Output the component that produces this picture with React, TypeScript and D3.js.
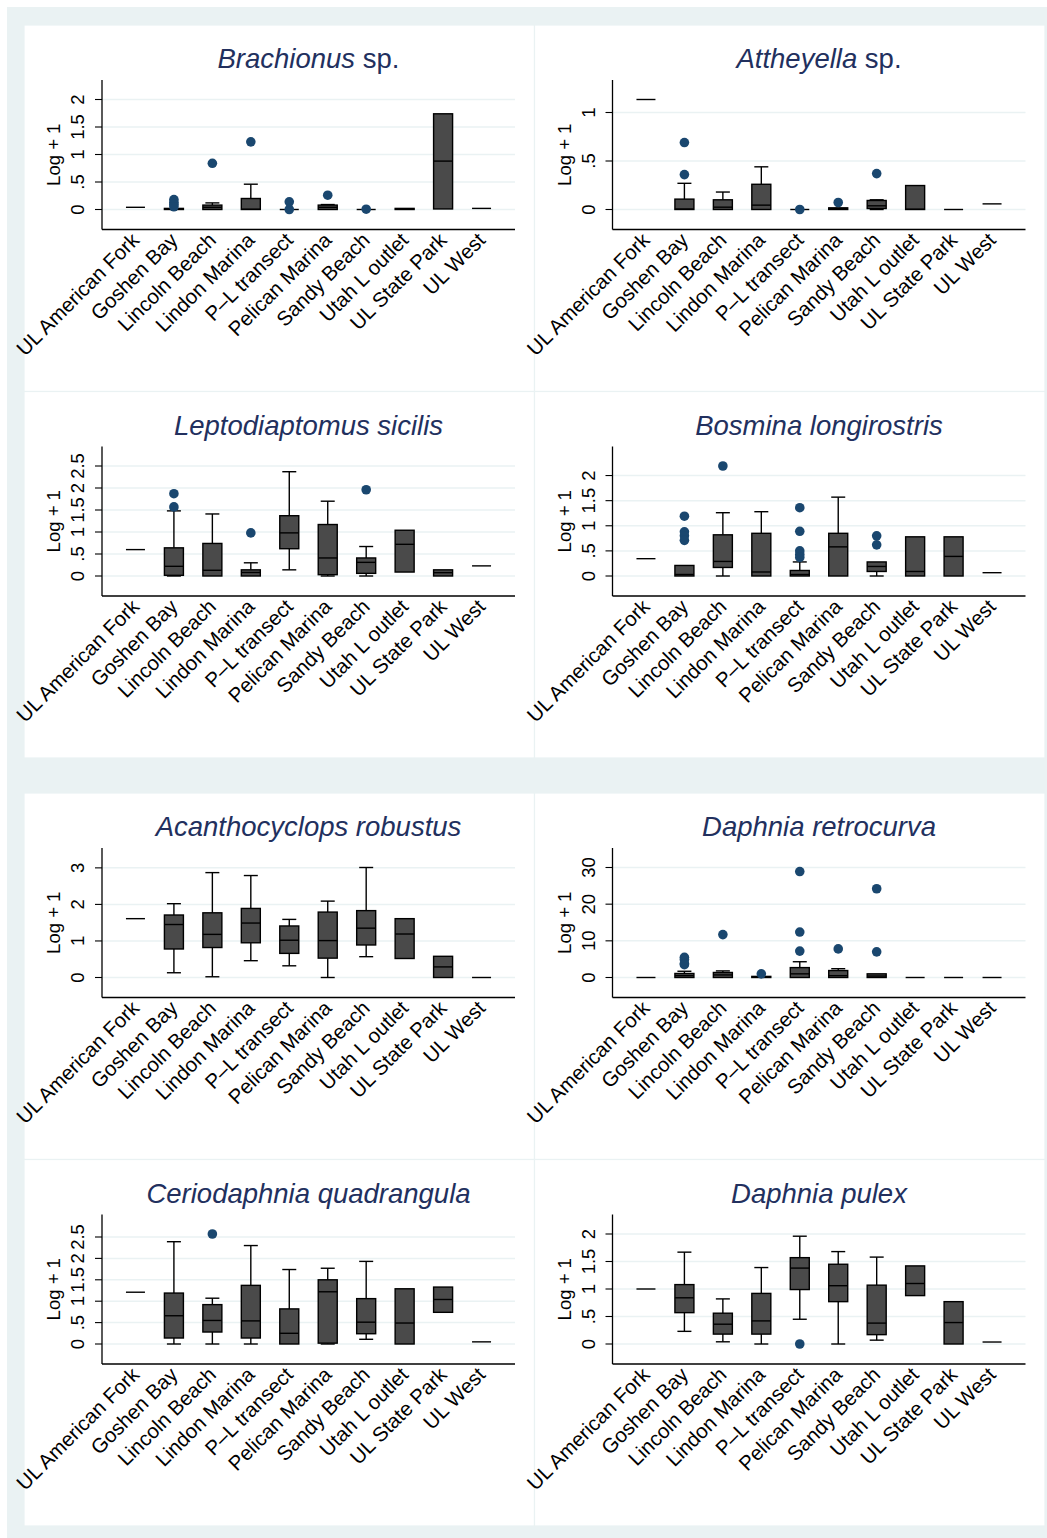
import React, { useEffect, useRef } from "react";
import * as d3 from "d3";

const categories = [
  "UL American Fork",
  "Goshen Bay",
  "Lincoln Beach",
  "Lindon Marina",
  "P–L transect",
  "Pelican Marina",
  "Sandy Beach",
  "Utah L outlet",
  "UL State Park",
  "UL West",
];

// Box stats per category: [lower whisker, q1, median, q3, upper whisker]
const brachionusTitle = ["Brachionus", " sp."];
const brachionusTicks = [0, 0.5, 1, 1.5, 2];
const brachionusBoxes = [
  [0.04, 0.04, 0.04, 0.04, 0.04],
  [0, 0, 0.01, 0.02, 0.02],
  [0, 0, 0.04, 0.08, 0.12],
  [0, 0, 0.005, 0.2, 0.46],
  [0, 0, 0, 0, 0],
  [0, 0, 0.04, 0.08, 0.09],
  [0, 0, 0, 0, 0],
  [0, 0, 0.01, 0.02, 0.02],
  [0.01, 0.01, 0.88, 1.74, 1.74],
  [0.02, 0.02, 0.02, 0.02, 0.02],
];
const brachionusOutliers = [[], [0.18, 0.13, 0.09, 0.05], [0.84], [1.23], [0.14, 0.0], [0.26], [0.005], [], [], []];

const attheyellaTitle = ["Attheyella", " sp."];
const attheyellaTicks = [0, 0.5, 1];
const attheyellaBoxes = [
  [1.134, 1.134, 1.134, 1.134, 1.134],
  [0, 0, 0.005, 0.107, 0.27],
  [0, 0, 0.024, 0.1, 0.18],
  [0, 0, 0.045, 0.26, 0.44],
  [0, 0, 0, 0, 0],
  [0, 0, 0.01, 0.017, 0.017],
  [0, 0.01, 0.038, 0.093, 0.1],
  [0, 0, 0.003, 0.247, 0.247],
  [0, 0, 0, 0, 0],
  [0.058, 0.058, 0.058, 0.058, 0.058],
];
const attheyellaOutliers = [[], [0.69, 0.36], [], [], [0], [0.072], [0.37], [], [], []];

const leptoTitle = ["Leptodiaptomus sicilis", ""];
const leptoTicks = [0, 0.5, 1, 1.5, 2, 2.5];
const leptoBoxes = [
  [0.6, 0.6, 0.6, 0.6, 0.6],
  [0, 0.015, 0.22, 0.64, 1.48],
  [0, 0, 0.13, 0.74, 1.41],
  [0, 0, 0.08, 0.14, 0.3],
  [0.14, 0.62, 0.98, 1.37, 2.37],
  [0, 0.03, 0.41, 1.17, 1.7],
  [0, 0.06, 0.31, 0.41, 0.67],
  [0.09, 0.09, 0.72, 1.04, 1.04],
  [0, 0, 0.076, 0.14, 0.14],
  [0.23, 0.23, 0.23, 0.23, 0.23],
];
const leptoOutliers = [[], [1.57, 1.87], [], [0.98], [], [], [1.96], [], [], []];

const bosminaTitle = ["Bosmina longirostris", ""];
const bosminaTicks = [0, 0.5, 1, 1.5, 2];
const bosminaBoxes = [
  [0.345, 0.345, 0.345, 0.345, 0.345],
  [0, 0, 0.03, 0.21, 0.21],
  [0, 0.17, 0.29, 0.82, 1.26],
  [0, 0, 0.08, 0.85, 1.28],
  [0, 0, 0.03, 0.11, 0.28],
  [0, 0, 0.58, 0.85, 1.57],
  [0, 0.09, 0.19, 0.28, 0.28],
  [0, 0, 0.09, 0.78, 0.78],
  [0, 0, 0.39, 0.78, 0.78],
  [0.066, 0.066, 0.066, 0.066, 0.066],
];
const bosminaOutliers = [[], [1.19, 0.88, 0.8, 0.71], [2.19], [], [1.36, 0.89, 0.5, 0.43, 0.37], [], [0.8, 0.62], [], [], []];

const acanthoTitle = ["Acanthocyclops robustus", ""];
const acanthoTicks = [0, 1, 2, 3];
const acanthoBoxes = [
  [1.61, 1.61, 1.61, 1.61, 1.61],
  [0.13, 0.78, 1.45, 1.71, 2.02],
  [0.02, 0.82, 1.18, 1.77, 2.87],
  [0.46, 0.95, 1.49, 1.89, 2.79],
  [0.32, 0.66, 1.02, 1.41, 1.59],
  [0, 0.53, 1.01, 1.79, 2.09],
  [0.57, 0.89, 1.35, 1.83, 3.01],
  [0.52, 0.52, 1.19, 1.61, 1.61],
  [0, 0, 0.29, 0.58, 0.58],
  [0, 0, 0, 0, 0],
];
const acanthoOutliers = [[], [], [], [], [], [], [], [], [], []];

const retroTitle = ["Daphnia retrocurva", ""];
const retroTicks = [0, 10, 20, 30];
const retroBoxes = [
  [0, 0, 0, 0, 0],
  [0, 0, 0.5, 1.1, 1.7],
  [0, 0, 0.7, 1.37, 1.8],
  [0, 0, 0.1, 0.3, 0.3],
  [0, 0, 1.0, 2.7, 4.3],
  [0, 0, 0.5, 1.9, 2.4],
  [0, 0, 0.4, 1.0, 1.0],
  [0, 0, 0, 0, 0],
  [0, 0, 0, 0, 0],
  [0, 0, 0, 0, 0],
];
const retroOutliers = [[], [5.5, 4.9, 3.8, 3.5], [11.7], [1.0], [28.9, 12.4, 7.2], [7.8], [24.2, 7.0], [], [], []];

const cerioTitle = ["Ceriodaphnia quadrangula", ""];
const cerioTicks = [0, 0.5, 1, 1.5, 2, 2.5];
const cerioBoxes = [
  [1.21, 1.21, 1.21, 1.21, 1.21],
  [0, 0.14, 0.66, 1.19, 2.39],
  [0, 0.28, 0.55, 0.92, 1.07],
  [0, 0.14, 0.54, 1.37, 2.3],
  [0, 0, 0.25, 0.82, 1.74],
  [0, 0.02, 1.22, 1.5, 1.77],
  [0.11, 0.24, 0.51, 1.06, 1.93],
  [0, 0, 0.49, 1.29, 1.29],
  [0.74, 0.74, 1.04, 1.33, 1.33],
  [0.05, 0.05, 0.05, 0.05, 0.05],
];
const cerioOutliers = [[], [], [2.57], [], [], [], [], [], [], []];

const pulexTitle = ["Daphnia pulex", ""];
const pulexTicks = [0, 0.5, 1, 1.5, 2];
const pulexBoxes = [
  [1.0, 1.0, 1.0, 1.0, 1.0],
  [0.23, 0.57, 0.84, 1.08, 1.67],
  [0.04, 0.18, 0.36, 0.56, 0.82],
  [0, 0.18, 0.42, 0.92, 1.39],
  [0.45, 0.99, 1.38, 1.57, 1.96],
  [0, 0.77, 1.06, 1.45, 1.68],
  [0.07, 0.17, 0.38, 1.07, 1.58],
  [0.88, 0.88, 1.1, 1.42, 1.42],
  [0, 0, 0.39, 0.77, 0.77],
  [0.036, 0.036, 0.036, 0.036, 0.036],
];
const pulexOutliers = [[], [], [], [], [0], [], [], [], [], []];

const yAxisTitle = "Log + 1";

const panels = [
  { title: brachionusTitle, ticks: brachionusTicks, boxes: brachionusBoxes, outliers: brachionusOutliers },
  { title: attheyellaTitle, ticks: attheyellaTicks, boxes: attheyellaBoxes, outliers: attheyellaOutliers },
  { title: leptoTitle, ticks: leptoTicks, boxes: leptoBoxes, outliers: leptoOutliers },
  { title: bosminaTitle, ticks: bosminaTicks, boxes: bosminaBoxes, outliers: bosminaOutliers },
  { title: acanthoTitle, ticks: acanthoTicks, boxes: acanthoBoxes, outliers: acanthoOutliers },
  { title: retroTitle, ticks: retroTicks, boxes: retroBoxes, outliers: retroOutliers },
  { title: cerioTitle, ticks: cerioTicks, boxes: cerioBoxes, outliers: cerioOutliers },
  { title: pulexTitle, ticks: pulexTicks, boxes: pulexBoxes, outliers: pulexOutliers },
];

const W = 1047;
const H = 1538;
const BG = "#eaf2f3";
const FONT = "'Liberation Sans', Arial, Helvetica, sans-serif";
const TITLE_COLOR = "#22305e";
const MARKER_COLOR = "#1a476f";
const BOX_FILL = "#4a4a4a";

const fmt = (d: number) => (d === 0 ? "0" : String(d).replace(/^0\./, "."));

export default function App() {
  const ref = useRef<SVGSVGElement>(null);

  useEffect(() => {
    const svg = d3.select(ref.current);
    svg.selectAll("*").remove();

    svg.append("rect").attr("x", 0).attr("y", 0).attr("width", W).attr("height", H).attr("fill", "#ffffff");

    // two combined-graph regions
    const groups = [
      { y0: 7, y1: 775, innerTop: 25, innerBottom: 758 },
      { y0: 775, y1: 1538, innerTop: 793, innerBottom: 1526 },
    ];
    groups.forEach((gr) => {
      svg.append("rect").attr("x", 7).attr("y", gr.y0).attr("width", W - 7).attr("height", gr.y1 - gr.y0).attr("fill", BG);
    });

    const colLefts = [24, 534.5];
    const colW = 510.5;
    const rowTops = [25, 391.5, 793, 1159.5];
    const rowH = 366.5;

    panels.forEach((p, i) => {
      const col = i % 2;
      const row = Math.floor(i / 2);
      const px = colLefts[col];
      const py = rowTops[row];
      const g = svg.append("g").attr("transform", `translate(${px},${py})`);

      g.append("rect")
        .attr("x", 0)
        .attr("y", 0)
        .attr("width", colW)
        .attr("height", rowH)
        .attr("fill", "#ffffff")
        .attr("stroke", BG)
        .attr("stroke-width", 1.2);

      const axisX = 78;
      const plotRight = 491;
      const plotTop = 55;
      const plotBottom = 204.5;
      const zeroY = plotBottom - 20;

      const x = d3.scalePoint<string>().domain(categories).range([axisX, plotRight]).padding(0.87);
      const allVals: number[] = ([] as number[])
        .concat(...p.boxes)
        .concat(...p.outliers)
        .concat(p.ticks);
      const y = d3
        .scaleLinear()
        .domain([Math.min(0, d3.min(allVals) as number), d3.max(allVals) as number])
        .range([zeroY, zeroY - 110]);

      // gridlines
      g.append("g")
        .selectAll("line")
        .data(p.ticks)
        .join("line")
        .attr("x1", axisX)
        .attr("x2", plotRight)
        .attr("y1", (d) => y(d))
        .attr("y2", (d) => y(d))
        .attr("stroke", BG)
        .attr("stroke-width", 1.5);

      // title
      const t = g
        .append("text")
        .attr("x", (axisX + plotRight) / 2)
        .attr("y", 43)
        .attr("text-anchor", "middle")
        .attr("font-family", FONT)
        .attr("font-size", 27.5)
        .attr("fill", TITLE_COLOR);
      t.append("tspan").attr("font-style", "italic").text(p.title[0]);
      if (p.title[1]) t.append("tspan").text(p.title[1]);

      // y axis
      g.append("line")
        .attr("x1", axisX)
        .attr("x2", axisX)
        .attr("y1", plotTop)
        .attr("y2", plotBottom)
        .attr("stroke", "#000")
        .attr("stroke-width", 1.3);
      g.append("g")
        .selectAll("line")
        .data(p.ticks)
        .join("line")
        .attr("x1", axisX - 7)
        .attr("x2", axisX)
        .attr("y1", (d) => y(d))
        .attr("y2", (d) => y(d))
        .attr("stroke", "#000")
        .attr("stroke-width", 1.1);
      g.append("g")
        .selectAll("text")
        .data(p.ticks)
        .join("text")
        .attr("transform", (d) => `translate(${axisX - 18},${y(d)}) rotate(-90)`)
        .attr("text-anchor", "middle")
        .attr("font-family", FONT)
        .attr("font-size", 18.5)
        .attr("fill", "#000")
        .text((d) => fmt(d));
      g.append("text")
        .attr("transform", `translate(${axisX - 42},${(plotTop + plotBottom) / 2}) rotate(-90)`)
        .attr("text-anchor", "middle")
        .attr("font-family", FONT)
        .attr("font-size", 18.5)
        .attr("fill", "#000")
        .text(yAxisTitle);

      // x axis
      g.append("line")
        .attr("x1", axisX)
        .attr("x2", plotRight)
        .attr("y1", plotBottom)
        .attr("y2", plotBottom)
        .attr("stroke", "#000")
        .attr("stroke-width", 1.3);
      g.append("g")
        .selectAll("text")
        .data(categories)
        .join("text")
        .attr("transform", (d) => `translate(${(x(d) as number) + 5},${plotBottom + 12}) rotate(-45)`)
        .attr("text-anchor", "end")
        .attr("font-family", FONT)
        .attr("font-size", 20.5)
        .attr("fill", "#000")
        .text((d) => d);

      // boxes
      const boxW = 19;
      const capW = 14;
      const bg = g
        .append("g")
        .selectAll("g")
        .data(p.boxes.map((b, k) => ({ b, cat: categories[k] })))
        .join("g");
      bg.each(function (d) {
        const cx = x(d.cat) as number;
        const [lw, q1, med, q3, uw] = d.b;
        const s = d3.select(this);
        const lineAttrs = (sel: any) => sel.attr("stroke", "#000").attr("stroke-width", 1.4);
        if (uw > q3) {
          lineAttrs(s.append("line").attr("x1", cx).attr("x2", cx).attr("y1", y(q3)).attr("y2", y(uw)));
          lineAttrs(s.append("line").attr("x1", cx - capW / 2).attr("x2", cx + capW / 2).attr("y1", y(uw)).attr("y2", y(uw)));
        }
        if (lw < q1) {
          lineAttrs(s.append("line").attr("x1", cx).attr("x2", cx).attr("y1", y(q1)).attr("y2", y(lw)));
          lineAttrs(s.append("line").attr("x1", cx - capW / 2).attr("x2", cx + capW / 2).attr("y1", y(lw)).attr("y2", y(lw)));
        }
        s.append("rect")
          .attr("x", cx - boxW / 2)
          .attr("y", y(q3))
          .attr("width", boxW)
          .attr("height", Math.max(0, y(q1) - y(q3)))
          .attr("fill", BOX_FILL)
          .attr("stroke", "#000")
          .attr("stroke-width", 1.4);
        lineAttrs(s.append("line").attr("x1", cx - boxW / 2).attr("x2", cx + boxW / 2).attr("y1", y(med)).attr("y2", y(med)));
      });

      // outliers
      const pts = p.outliers.flatMap((arr, k) => arr.map((v) => ({ v, cat: categories[k] })));
      g.append("g")
        .selectAll("circle")
        .data(pts)
        .join("circle")
        .attr("cx", (d) => x(d.cat) as number)
        .attr("cy", (d) => y(d.v))
        .attr("r", 4.8)
        .attr("fill", MARKER_COLOR);
    });
  }, []);

  return (
    <svg
      ref={ref}
      width={W}
      height={H}
      style={{ position: "absolute", left: 0, top: 0, display: "block" }}
    />
  );
}
